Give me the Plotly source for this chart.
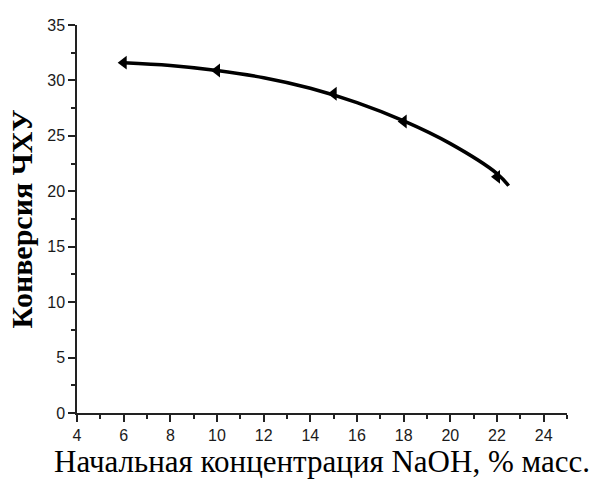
import plotly.graph_objects as go

# Data points (markers)
naoh = [6, 10, 15, 18, 22]
conversion = [31.6, 30.9, 28.8, 26.3, 21.3]

# Smooth fitted curve
curve_x = [6, 8, 10, 12, 14, 16, 18, 20, 22, 22.5]
curve_y = [31.6, 31.35, 30.9, 30.25, 29.3, 28.0, 26.35, 24.3, 21.6, 20.5]

x_ticks = [4, 6, 8, 10, 12, 14, 16, 18, 20, 22, 24]
y_ticks = [0, 5, 10, 15, 20, 25, 30, 35]

fig = go.Figure()
fig.add_trace(go.Scatter(x=curve_x, y=curve_y, mode="lines",
                         line=dict(color="black", width=3.5, shape="spline"),
                         hoverinfo="skip", showlegend=False))
fig.add_trace(go.Scatter(x=naoh, y=conversion, mode="markers",
                         marker=dict(symbol="triangle-left", size=12, color="black"),
                         showlegend=False))

tickfont = dict(family="Liberation Sans, Arial", size=16, color="#1a1a1a")
xtitlefont = dict(family="Liberation Serif, Times New Roman", size=31, color="black")
ytitlefont = dict(family="Liberation Serif, Times New Roman", size=30, color="black",
                  weight="bold")
axis_common = dict(ticks="outside", ticklen=7, tickwidth=1.5, tickcolor="#222",
                   showline=True, linecolor="#222", linewidth=1.5, showgrid=False,
                   zeroline=False, tickfont=tickfont)
fig.update_layout(
    width=595, height=484,
    margin=dict(l=77, r=28, t=25, b=71),
    paper_bgcolor="white", plot_bgcolor="white",
    xaxis=dict(range=[4, 25], tickvals=x_ticks,
               minor=dict(dtick=1, ticks="outside", ticklen=4, tickcolor="#222", tickwidth=1.5),
               title=dict(text="Начальная концентрация NaOH, % масс.",
                          font=xtitlefont, standoff=4),
               **axis_common),
    yaxis=dict(range=[0, 35], tickvals=y_ticks,
               minor=dict(dtick=2.5, ticks="outside", ticklen=4, tickcolor="#222", tickwidth=1.5),
               title=dict(text="Конверсия ЧХУ", font=ytitlefont, standoff=6),
               **axis_common),
)
fig.write_html("out.html")
